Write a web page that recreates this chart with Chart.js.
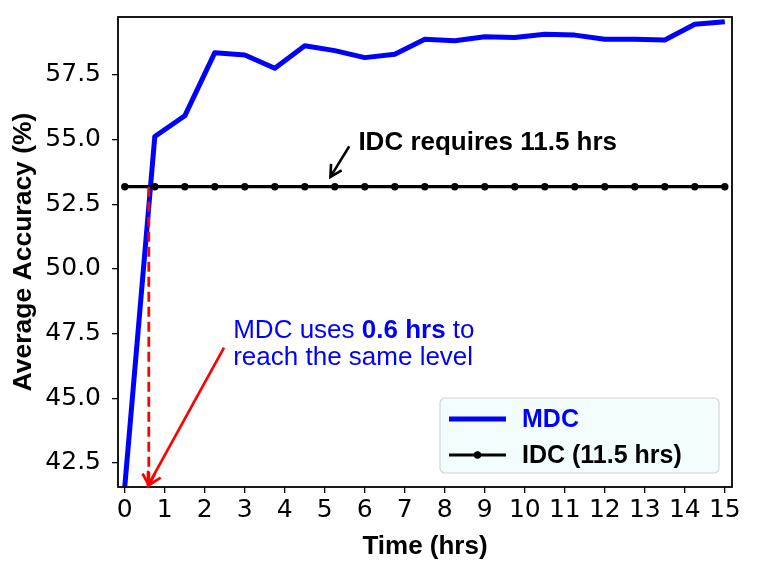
<!DOCTYPE html>
<html><head><meta charset="utf-8">
<script src="https://cdn.jsdelivr.net/npm/chart.js@4.4.0/dist/chart.umd.min.js"></script>
<style>html,body{margin:0;padding:0;background:#fff;} #wrap{width:761px;height:571px;}</style>
</head><body><div id="wrap"><canvas id="c" width="761" height="571"></canvas></div>
<script>
// ---- data ----
const timeHrs = [0, 0.75, 1.5, 2.25, 3, 3.75, 4.5, 5.25, 6, 6.75, 7.5, 8.25, 9, 9.75, 10.5, 11.25, 12, 12.75, 13.5, 14.25, 15];
const mdcAccuracy = [41.6, 55.12, 55.92, 58.36, 58.27, 57.76, 58.63, 58.44, 58.17, 58.30, 58.88, 58.82, 58.98, 58.95, 59.07, 59.04, 58.88, 58.88, 58.85, 59.46, 59.56];
const idcAccuracy = [53.18, 53.18, 53.18, 53.18, 53.18, 53.18, 53.18, 53.18, 53.18, 53.18, 53.18, 53.18, 53.18, 53.18, 53.18, 53.18, 53.18, 53.18, 53.18, 53.18, 53.18];
const seriesLabels = ['MDC', 'IDC (11.5 hrs)'];
const xTicks = [0, 1, 2, 3, 4, 5, 6, 7, 8, 9, 10, 11, 12, 13, 14, 15];
const yTicks = [42.5, 45.0, 47.5, 50.0, 52.5, 55.0, 57.5];
const mdcReachTime = 0.6;
const idcLevel = 53.18;
const idcNoteText = 'IDC requires 11.5 hrs';
const mdcNoteParts = [['MDC uses ', false], ['0.6 hrs', true], [' to', false]];
const mdcNoteLine2 = 'reach the same level';

const SANS = '"Liberation Sans", Arial, sans-serif';
const DEJAVU = '"DejaVu Sans", sans-serif';

function arrow(ctx, x1, y1, x2, y2, color, lw, head, dash) {
  ctx.save();
  ctx.strokeStyle = color; ctx.lineWidth = lw; ctx.lineCap = 'butt';
  if (dash) ctx.setLineDash(dash);
  ctx.beginPath(); ctx.moveTo(x1, y1); ctx.lineTo(x2, y2); ctx.stroke();
  ctx.setLineDash([]);
  const a = Math.atan2(y2 - y1, x2 - x1), sp = 0.5;
  ctx.lineJoin = 'miter';
  ctx.beginPath();
  ctx.moveTo(x2 - head * Math.cos(a - sp), y2 - head * Math.sin(a - sp));
  ctx.lineTo(x2, y2);
  ctx.lineTo(x2 - head * Math.cos(a + sp), y2 - head * Math.sin(a + sp));
  ctx.stroke();
  ctx.restore();
}

const overlay = {
  id: 'overlay',
  afterDatasetsDraw(chart) {
    const ctx = chart.ctx, xs = chart.scales.x, ys = chart.scales.y, ca = chart.chartArea;
    const X = v => xs.getPixelForValue(v), Y = v => ys.getPixelForValue(v);
    // frame
    ctx.save();
    ctx.strokeStyle = '#000'; ctx.lineWidth = 1.8;
    ctx.strokeRect(ca.left, ca.top, ca.right - ca.left, ca.bottom - ca.top);
    ctx.restore();
    // red dashed drop line
    arrow(ctx, X(mdcReachTime), Y(idcLevel), X(mdcReachTime), ca.bottom - 2, '#ff0000', 2.8, 13, [10, 5]);
    // red solid arrow from note
    arrow(ctx, X(2.48), Y(46.96), X(0.58), Y(41.62), '#ff0000', 2.7, 15, null);
    // black arrow to IDC line
    arrow(ctx, X(5.61), Y(54.74), X(5.14), Y(53.56), '#000', 2.6, 13, null);
    // IDC note
    ctx.save();
    ctx.fillStyle = '#000'; ctx.textBaseline = 'alphabetic'; ctx.textAlign = 'left';
    ctx.font = 'bold 26px ' + SANS;
    ctx.fillText(idcNoteText, X(5.84), Y(54.61));
    // MDC note
    ctx.fillStyle = '#0000ff';
    let x = X(2.71);
    const y1 = Y(47.33), y2 = Y(46.30);
    mdcNoteParts.forEach(([t, b]) => {
      ctx.font = (b ? 'bold ' : '') + '26px ' + SANS;
      ctx.fillText(t, x, y1);
      x += ctx.measureText(t).width;
    });
    ctx.font = '26px ' + SANS;
    ctx.fillText(mdcNoteLine2, X(2.71), y2);
    ctx.restore();
    // legend
    const ds = chart.data.datasets;
    const bw = 279, bh = 75, bx = ca.right - 13 - bw, by = ca.bottom - 14 - bh;
    ctx.save();
    ctx.fillStyle = '#f3fdfe'; ctx.strokeStyle = '#d4d4d4'; ctx.lineWidth = 1.2;
    ctx.beginPath(); ctx.roundRect(bx, by, bw, bh, 5); ctx.fill(); ctx.stroke();
    const rows = [by + 21, by + 57];
    ds.forEach((d, i) => {
      const ry = rows[i];
      ctx.strokeStyle = d.borderColor; ctx.lineWidth = d.borderWidth;
      ctx.beginPath(); ctx.moveTo(bx + 9, ry); ctx.lineTo(bx + 66, ry); ctx.stroke();
      if (d.pointRadius > 0) {
        ctx.fillStyle = d.pointBackgroundColor;
        ctx.beginPath(); ctx.arc(bx + 37.5, ry, d.pointRadius, 0, Math.PI * 2); ctx.fill();
      }
      ctx.fillStyle = i === 0 ? '#0000ff' : '#000';
      ctx.font = 'bold 25px ' + SANS; ctx.textBaseline = 'middle'; ctx.textAlign = 'left';
      ctx.fillText(d.label, bx + 82, ry + 1);
    });
    ctx.restore();
  }
};

new Chart(document.getElementById('c'), {
  type: 'line',
  data: {
    datasets: [
      { label: seriesLabels[0], data: timeHrs.map((t, i) => ({ x: t, y: mdcAccuracy[i] })),
        borderColor: '#0000ff', backgroundColor: '#0000ff', borderWidth: 5, pointRadius: 0,
        borderJoinStyle: 'round', tension: 0, order: 1, clip: 0 },
      { label: seriesLabels[1], data: timeHrs.map((t, i) => ({ x: t, y: idcAccuracy[i] })),
        borderColor: '#000', backgroundColor: '#000', pointBackgroundColor: '#000', pointBorderWidth: 0,
        borderWidth: 3.2, pointRadius: 3.7, tension: 0, order: 0 }
    ]
  },
  options: {
    responsive: false, animation: false,
    layout: { padding: { left: 0, right: 29, top: 17, bottom: 0 } },
    plugins: { legend: { display: false }, tooltip: { enabled: false } },
    scales: {
      x: {
        type: 'linear', min: -0.17, max: 15.18,
        afterBuildTicks: s => { s.ticks = xTicks.map(v => ({ value: v })); },
        afterFit: s => { s.height = 84; s.paddingLeft = 0; s.paddingRight = 0; },
        grid: { drawOnChartArea: false, drawTicks: true, tickLength: 6, color: '#000', lineWidth: 1.3 },
        border: { display: false },
        ticks: { color: '#000', font: { family: DEJAVU, size: 25 }, padding: 2, maxRotation: 0, autoSkip: false,
                 callback: v => String(v) },
        title: { display: true, text: 'Time (hrs)', color: '#000', font: { family: SANS, size: 26, weight: 'bold' },
                 padding: { top: 0, bottom: 9 } }
      },
      y: {
        type: 'linear', min: 41.57, max: 59.74,
        afterBuildTicks: s => { s.ticks = yTicks.map(v => ({ value: v })); },
        afterFit: s => { s.width = 118; s.paddingTop = 0; s.paddingBottom = 0; },
        grid: { drawOnChartArea: false, drawTicks: true, tickLength: 6, color: '#000', lineWidth: 1.3 },
        border: { display: false },
        ticks: { color: '#000', font: { family: DEJAVU, size: 25 }, padding: 11, autoSkip: false,
                 callback: v => Number(v).toFixed(1) },
        title: { display: true, text: 'Average Accuracy (%)', color: '#000', font: { family: SANS, size: 26.5, weight: 'bold' },
                 padding: { top: 8, bottom: 0 } }
      }
    }
  },
  plugins: [overlay]
});
</script></body></html>
